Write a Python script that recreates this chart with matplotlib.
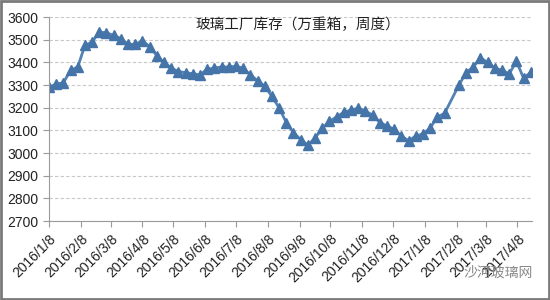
import pandas as pd
import matplotlib
matplotlib.use("Agg")
import matplotlib.pyplot as plt
import matplotlib.dates as mdates
from matplotlib.patches import Rectangle

plt.rcParams["font.family"] = ["Liberation Sans", "Noto Sans CJK SC", "DejaVu Sans"]

# weekly dates, the Spring Festival week of 2017 has no value
dates = [d for d in pd.date_range("2016-01-08", "2017-04-21", freq="7D")
         if d != pd.Timestamp("2017-02-03")]

stock = [
    3290, 3305, 3310, 3365, 3380, 3475, 3490, 3535, 3530, 3520,
    3505, 3480, 3480, 3495, 3470, 3430, 3400, 3375, 3360, 3355,
    3350, 3345, 3370, 3375, 3380, 3380, 3383, 3375, 3345, 3320,
    3295, 3250, 3200, 3135, 3090, 3060, 3035, 3066, 3110, 3140,
    3160, 3180, 3190, 3198, 3185, 3168, 3135, 3120, 3105, 3075,
    3055, 3075, 3085, 3110, 3160, 3175, 3300, 3355, 3380, 3420,
    3400, 3375, 3365, 3350, 3405, 3330, 3357,
]

title = "玻璃工厂库存（万重箱，周度）"
watermark = "沙河玻璃网"

fig = plt.figure(figsize=(5.5, 3.0), dpi=100, facecolor="white")
ax = fig.add_axes([0.089, 0.263, 0.878, 0.68])

ax.plot(dates, stock, color="#5282b6", linewidth=2.0, marker="^",
        markersize=6.5, markerfacecolor="#4574a8", markeredgecolor="#4574a8")

ax.set_ylim(2700, 3600)
ax.set_yticks(range(2700, 3601, 100))
ax.set_xlim(pd.Timestamp("2016-01-08"), pd.Timestamp("2017-04-22"))
ax.xaxis.set_major_locator(mdates.MonthLocator(bymonthday=8))
ax.xaxis.set_major_formatter(
    plt.FuncFormatter(lambda v, p: "{0.year}/{0.month}/{0.day}".format(mdates.num2date(v))))
plt.setp(ax.get_xticklabels(), rotation=45, ha="right", rotation_mode="anchor")

ax.grid(axis="y", color="#c8c8c8", linestyle=(0, (3, 2)), linewidth=0.8)
ax.set_axisbelow(True)
for side in ["top", "right"]:
    ax.spines[side].set_visible(False)
for side in ["left", "bottom"]:
    ax.spines[side].set_color("#9a9a9a")
ax.tick_params(axis="both", colors="#9a9a9a", labelcolor="#222222",
               labelsize=10, length=4, width=0.8)

ax.text(0.515, 0.96, title, transform=ax.transAxes, ha="center", va="center",
        fontsize=10.5, color="#222222", family=["Noto Sans CJK SC", "DejaVu Sans"])

fig.text(0.905, 0.09, watermark, ha="center", va="center", fontsize=10,
         color="#8a8a8a", family=["Noto Sans CJK SC", "DejaVu Sans"])

fig.patches.append(Rectangle((0.002, 0.003), 0.996, 0.994, transform=fig.transFigure,
                             fill=False, edgecolor="#7a7a7a", linewidth=2))

fig.savefig("out.png", dpi=100)
